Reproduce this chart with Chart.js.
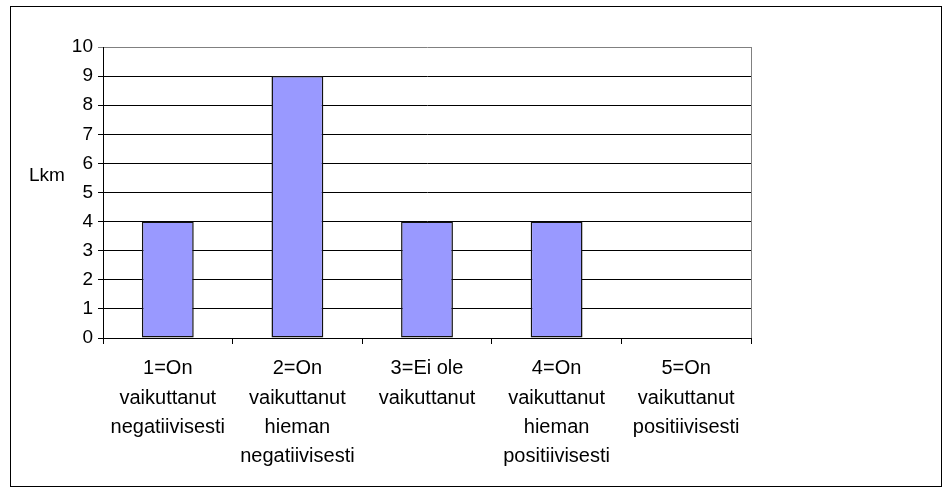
<!DOCTYPE html>
<html>
<head>
<meta charset="utf-8">
<script src="https://cdn.jsdelivr.net/npm/chart.js@4"></script>
<style>
  body { margin: 0; background: #fff; }
  #wrap { width: 950px; height: 495px; }
</style>
</head>
<body>
<div id="wrap"><canvas id="bar-chart" width="950" height="495"></canvas></div>
<script>
// data
var categories = [
  ["1=On", "vaikuttanut", "negatiivisesti"],
  ["2=On", "vaikuttanut", "hieman", "negatiivisesti"],
  ["3=Ei ole", "vaikuttanut"],
  ["4=On", "vaikuttanut", "hieman", "positiivisesti"],
  ["5=On", "vaikuttanut", "positiivisesti"]
];
var counts = [4, 9, 4, 4, 0];
var yTicks = [0, 1, 2, 3, 4, 5, 6, 7, 8, 9, 10];
var yLabel = "Lkm";

var fontFamily = "'Liberation Sans', Arial, sans-serif";

// outer frame + horizontal axis title
var framePlugin = {
  id: "frame",
  beforeDraw: function (chart) {
    var c = chart.ctx;
    c.save();
    c.fillStyle = "#fff";
    c.fillRect(0, 0, chart.width, chart.height);
    c.strokeStyle = "#000";
    c.lineWidth = 1;
    c.strokeRect(10.5, 6.5, 931, 480);
    c.restore();
  },
  afterDraw: function (chart) {
    var c = chart.ctx;
    var area = chart.chartArea;
    c.save();
    c.strokeStyle = "#808080";
    c.lineWidth = 1;
    c.beginPath();
    c.moveTo(area.right + 0.5, area.top);
    c.lineTo(area.right + 0.5, area.bottom);
    c.stroke();
    c.fillStyle = "#000";
    c.font = "19px " + fontFamily;
    c.textAlign = "left";
    c.textBaseline = "middle";
    c.fillText(yLabel, 29, 176);
    c.restore();
  }
};

var ctx = document.getElementById("bar-chart").getContext("2d");
var chart = new Chart(ctx, {
  type: "bar",
  data: {
    labels: categories,
    datasets: [
      {
        data: counts,
        backgroundColor: "#9999ff",
        borderColor: "#111",
        borderWidth: 1.5,
        borderSkipped: false,
        barPercentage: 0.4,
        categoryPercentage: 1
      }
    ]
  },
  options: {
    responsive: false,
    animation: false,
    layout: { padding: { left: 0, right: 199, top: 47, bottom: 0 } },
    plugins: { legend: { display: false }, tooltip: { enabled: false } },
    scales: {
      x: {
        offset: true,
        afterFit: function (scale) { scale.height = 157; },
        grid: {
          offset: true,
          drawOnChartArea: false,
          color: "#000",
          tickLength: 6
        },
        border: { color: "#000", width: 1 },
        ticks: {
          color: "#000",
          maxRotation: 0,
          autoSkip: false,
          padding: 10,
          font: { family: fontFamily, size: 20, lineHeight: 1.47 }
        }
      },
      y: {
        min: 0,
        max: 10,
        afterFit: function (scale) { scale.width = 103; },
        afterBuildTicks: function (scale) {
          scale.ticks = yTicks.map(function (v) { return { value: v }; });
        },
        grid: {
          color: function (c) { return c.tick && c.tick.value === 10 ? "#808080" : "#000"; },
          tickLength: 5
        },
        border: { color: "#000", width: 1 },
        ticks: {
          color: "#000",
          padding: 5,
          font: { family: fontFamily, size: 19 }
        }
      }
    }
  },
  plugins: [framePlugin]
});
</script>
</body>
</html>
